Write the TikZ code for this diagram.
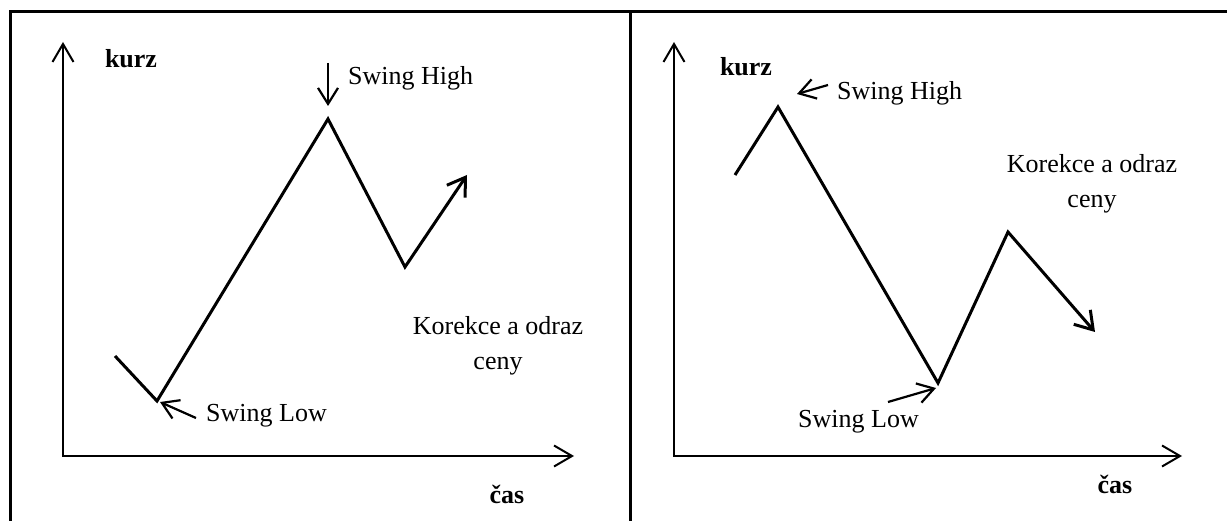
\documentclass[tikz,border=0pt]{standalone}
\usepackage{fontspec}
\setmainfont{Liberation Serif}
\usetikzlibrary{arrows.meta}
\begin{document}
\begin{tikzpicture}[x=1pt,y=-1pt,
  frame/.style={line width=3pt},
  barb/.tip={Straight Barb[length=18pt,width=21pt]},
  axis/.style={line width=2pt},
  pricearrow/.style={line width=3pt,-{Straight Barb[length=17pt,width=22pt]}},
  pointer/.style={line width=2.2pt,-{Straight Barb[length=16pt,width=20pt]}},
  lbl/.style={font=\fontsize{26}{30}\selectfont,inner sep=0pt,anchor=base west},
  ctr/.style={font=\fontsize{26}{30}\selectfont,inner sep=0pt,anchor=base},
  axlbl/.style={font=\fontsize{26}{30}\selectfont\bfseries,inner sep=0pt,anchor=base},
]
\useasboundingbox (0,0) rectangle (1227,521);
% frame
\draw[frame] (10,521) -- (10,12) -- (1227,12);
\draw[frame] (630,12) -- (630,521);

% ---------- left panel ----------
\coordinate (yL) at (63,42);
\coordinate (oL) at (63,456);
\coordinate (xL) at (574,456);
\draw[axis,barb-barb] (yL) -- (oL) -- (xL);
\node[axlbl] (kurzL) at (131,68) {kurz};
\node[axlbl] (casL) at (507,503) {čas};

\coordinate (pL1) at (115,356);
\coordinate (pL2) at (157,401);
\coordinate (pL3) at (328,119);
\coordinate (pL4) at (405,267);
\coordinate (pL5) at (467,175);
\draw[pricearrow] (pL1) -- (pL2) -- (pL3) -- (pL4) -- (pL5);

\node[lbl] (shL) at (348,85) {Swing High};
\coordinate (shLs) at (328,63);
\coordinate (shLe) at (328,106);
\draw[pointer] (shLs) -- (shLe);

\node[lbl] (slL) at (206,421) {Swing Low};
\coordinate (slLs) at (196,418);
\coordinate (slLe) at (160,402);
\draw[pointer] (slLs) -- (slLe);

\node[ctr] (korL1) at (498,335) {Korekce a odraz};
\node[ctr] (korL2) at (498,370) {ceny};

% ---------- right panel ----------
\coordinate (yR) at (674,42);
\coordinate (oR) at (674,456);
\coordinate (xR) at (1182,456);
\draw[axis,barb-barb] (yR) -- (oR) -- (xR);
\node[axlbl] (kurzR) at (746,76) {kurz};
\node[axlbl] (casR) at (1115,493) {čas};

\coordinate (pR1) at (735,175);
\coordinate (pR2) at (778,107);
\coordinate (pR3) at (938,383);
\coordinate (pR4) at (1008,232);
\coordinate (pR5) at (1095,332);
\draw[pricearrow] (pR1) -- (pR2) -- (pR3) -- (pR4) -- (pR5);

\node[lbl] (shR) at (837,100) {Swing High};
\coordinate (shRs) at (828,85);
\coordinate (shRe) at (797,94);
\draw[pointer] (shRs) -- (shRe);

\node[lbl] (slR) at (798,428) {Swing Low};
\coordinate (slRs) at (888,402);
\coordinate (slRe) at (936,388);
\draw[pointer] (slRs) -- (slRe);

\node[ctr] (korR1) at (1092,173) {Korekce a odraz};
\node[ctr] (korR2) at (1092,208) {ceny};
\end{tikzpicture}
\end{document}
